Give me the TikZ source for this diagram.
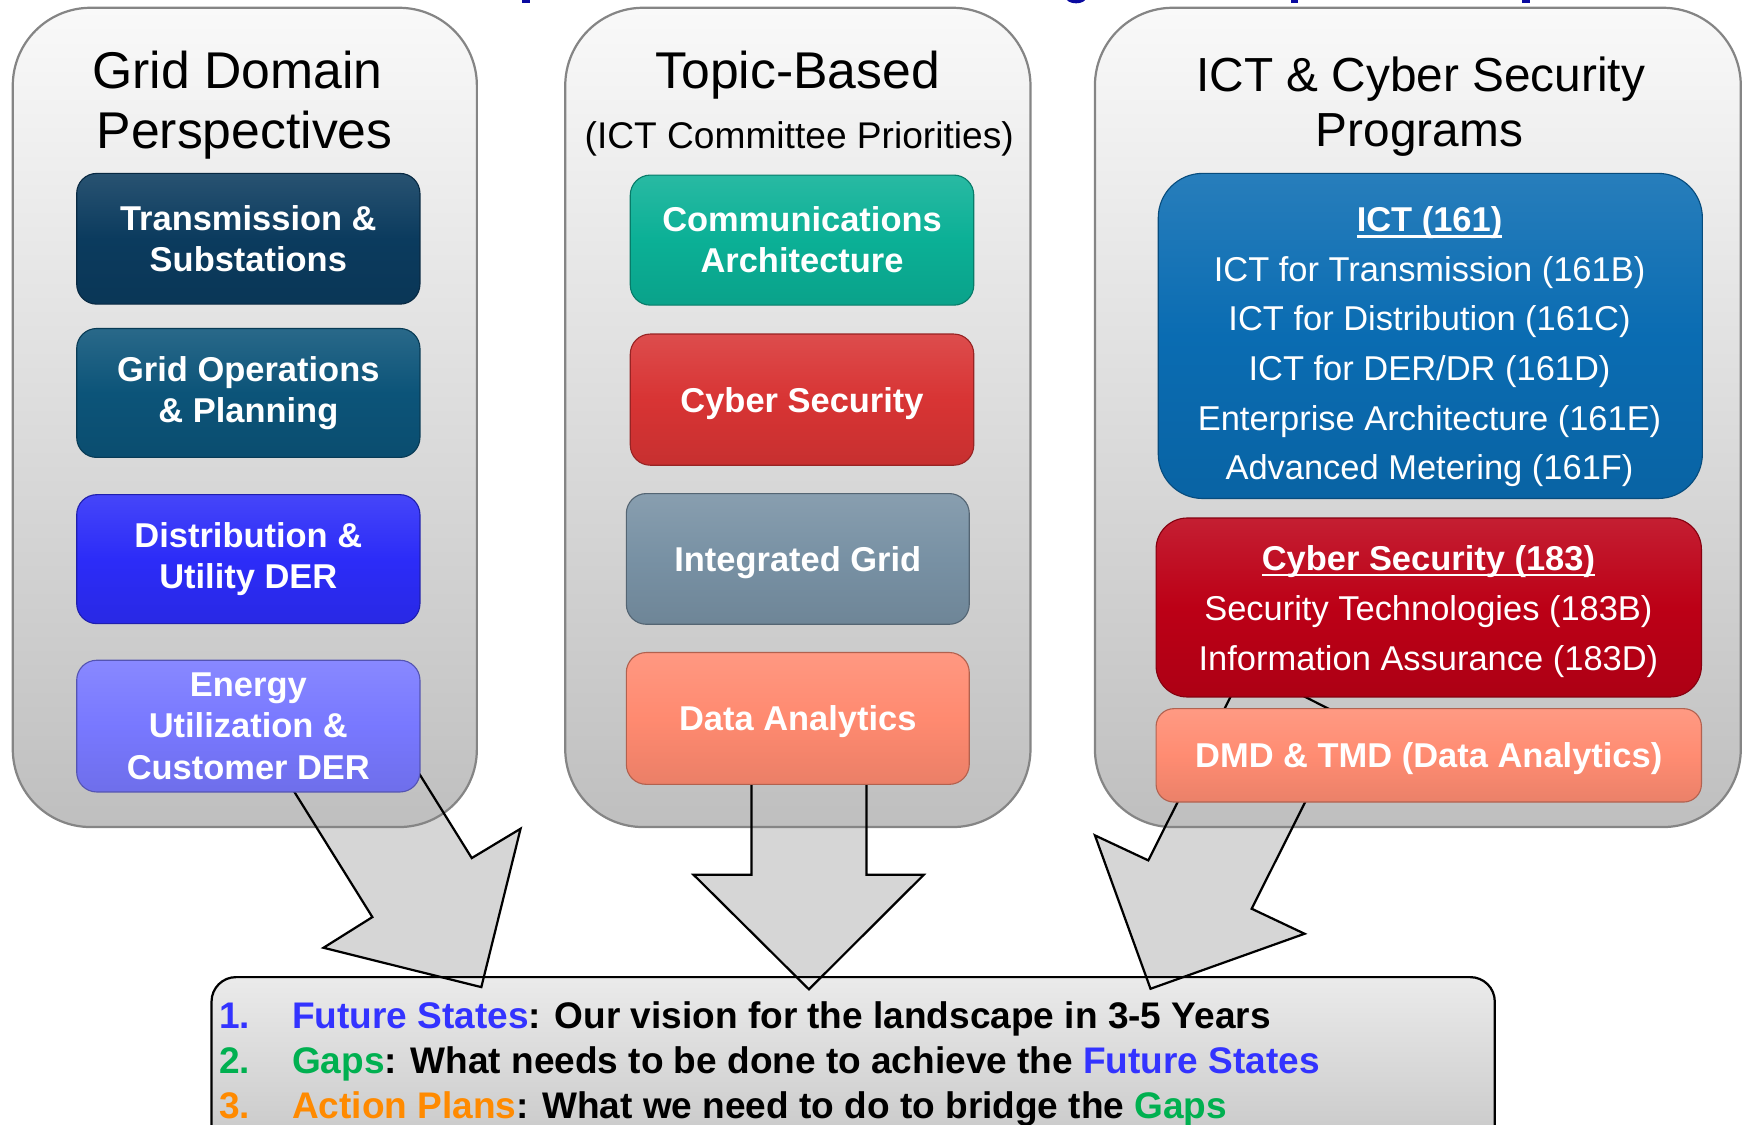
\documentclass[tikz,border=0pt]{standalone}
\usepackage{fontspec}
\setmainfont{Liberation Sans}
\definecolor{paneltop}{HTML}{F9F9F9}
\definecolor{panelbot}{HTML}{BFBFBF}
\definecolor{panelline}{HTML}{858585}
\definecolor{titleblue}{HTML}{0A0AA0}
\definecolor{arrowfill}{HTML}{D6D6D6}
\definecolor{ctrans}{HTML}{0B3B5E}
\definecolor{cgridops}{HTML}{0C5479}
\definecolor{cdist}{HTML}{2C2CF8}
\definecolor{cenergy}{HTML}{7878FF}
\definecolor{ccomm}{HTML}{0BB096}
\definecolor{ccyber}{HTML}{D83434}
\definecolor{cinteg}{HTML}{7891A4}
\definecolor{cdata}{HTML}{FF8A70}
\definecolor{cict}{HTML}{0A6CB2}
\definecolor{ccs}{HTML}{BC0016}
\definecolor{cdmd}{HTML}{FF8C72}
\definecolor{fsblue}{HTML}{3333FF}
\definecolor{gapgreen}{HTML}{00B050}
\definecolor{actorange}{HTML}{FF8A00}
\newcommand\myul[1]{\setbox0=\hbox{#1}\rlap{\rule[-5.5pt]{\wd0}{2.2pt}}\box0}
\begin{document}
\begin{tikzpicture}[x=1pt,y=-1pt,
  panel/.style={draw=panelline,line width=2pt,rounded corners=70pt,top color=paneltop,bottom color=panelbot},
  bottombox/.style={draw=black,line width=2pt,rounded corners=22pt,top color=black!8,bottom color=black!24},
  arrowline/.style={draw=black,line width=2pt,line join=miter},
  box/.style={rounded corners=18pt,draw=#1!70!black,line width=1pt,
    top color=#1!88!white,bottom color=#1!92!black,middle color=#1,
    text=white,align=center,inner sep=0pt,font=\bfseries\fontsize{31}{37}\selectfont},
  title/.style={inner sep=0pt,anchor=base,font=\fontsize{46.5}{50}\selectfont},
  boxtext/.style={inner sep=0pt,text=white,align=center,font=\fontsize{31}{44.7}\selectfont},
  btext/.style={inner sep=0pt,anchor=base west,font=\bfseries\fontsize{33.3}{40}\selectfont}]
\useasboundingbox (0,0) rectangle (1568,1012);
\clip (0,0) rectangle (1568,1012);

% fragments of the clipped heading
\fill[titleblue] (470,-1) rectangle (477,2.5);
\fill[titleblue] (968,-2) ellipse [x radius=9, y radius=5];
\fill[titleblue] (1161,-1) rectangle (1168,3);
\fill[titleblue] (1369,-1) rectangle (1376,3);

% block arrow coordinates
\coordinate (L1) at (249,687);   \coordinate (L2) at (335,825);
\coordinate (L3) at (291,852.6); \coordinate (L4) at (433,888);
\coordinate (L5) at (468.3,745.5); \coordinate (L6) at (424.4,771.9);
\coordinate (L7) at (337.3,632);
\coordinate (M1) at (676,690);   \coordinate (M2) at (676,787);
\coordinate (M3) at (624,787);   \coordinate (M4) at (727.7,890);
\coordinate (M5) at (831,787);   \coordinate (M6) at (779.5,787);
\coordinate (M7) at (779.5,690);
\coordinate (R1) at (1120.5,600); \coordinate (R2) at (1033,774);
\coordinate (R3) at (985,751.5);  \coordinate (R4) at (1035,889.5);
\coordinate (R5) at (1173.6,840); \coordinate (R6) at (1126,817.5);
\coordinate (R7) at (1212,646);

\fill[arrowfill] (L1) -- (L2) -- (L3) -- (L4) -- (L5) -- (L6) -- (L7) -- cycle;
\fill[arrowfill] (M1) -- (M2) -- (M3) -- (M4) -- (M5) -- (M6) -- (M7) -- cycle;
\fill[arrowfill] (R1) -- (R2) -- (R3) -- (R4) -- (R5) -- (R6) -- (R7) -- cycle;

% panels
\path[panel] (11.5,7) rectangle (429,744);
\path[panel] (508.5,7) rectangle (927,744);
\path[panel] (985,7) rectangle (1566,744);

% bottom box
\path[bottombox] (190.3,879) rectangle (1344.7,1060);

% arrow outlines
\draw[arrowline] (L1) -- (L2) -- (L3) -- (L4) -- (L5) -- (L6) -- (L7) -- cycle;
\draw[arrowline] (M1) -- (M2) -- (M3) -- (M4) -- (M5) -- (M6) -- (M7) -- cycle;
\draw[arrowline] (R1) -- (R2) -- (R3) -- (R4) -- (R5) -- (R6) -- (R7) -- cycle;

% titles
\node[title] (t1a) at (213.5,79.5) {Grid Domain};
\node[title] (t1b) at (220,133.5) {Perspectives};
\node[title] (t2a) at (717.5,79.5) {Topic-Based};
\node[title,font=\fontsize{33.4}{40}\selectfont] (t2b) at (719,133.7) {(ICT Committee Priorities)};
\node[title,font=\fontsize{43}{48}\selectfont] (t3a) at (1278,82.5) {ICT \& Cyber Security};
\node[title,font=\fontsize{43}{48}\selectfont] (t3b) at (1277,132) {Programs};

% left column
\node[box=ctrans,minimum width=308.8pt,minimum height=117.6pt] (trans) at (223.4,214.8) {Transmission \&\\Substations};
\node[box=cgridops,minimum width=308.8pt,minimum height=116pt] (gridops) at (223.4,353.5) {Grid Operations\\\& Planning};
\node[box=cdist,minimum width=308.8pt,minimum height=116pt] (dist) at (223.4,503) {Distribution \&\\Utility DER};
\node[box=cenergy,minimum width=308.8pt,minimum height=118.5pt,font=\bfseries\fontsize{31}{37.5}\selectfont] (energy) at (223.4,653.2) {Energy\\Utilization \&\\Customer DER};

% middle column
\node[box=ccomm,minimum width=309pt,minimum height=117pt] (comm) at (721.5,216) {Communications\\Architecture};
\node[box=ccyber,minimum width=309pt,minimum height=118pt,text depth=0pt] (cyber) at (721.5,359.5) {Cyber Security};
\node[box=cinteg,minimum width=308.5pt,minimum height=117.6pt,text depth=0pt] (integ) at (717.7,502.8) {Integrated Grid};
\node[box=cdata,minimum width=308.5pt,minimum height=118.6pt,text depth=0pt] (data) at (717.7,646.3) {Data Analytics};

% right column
\node[box=cict,minimum width=489.5pt,minimum height=292.5pt,rounded corners=40pt] (ict) at (1286.7,302.2) {};
\node[boxtext] (icttext) at (1286,312) {\textbf{\myul{ICT (161)}}\\ICT for Transmission (161B)\\ICT for Distribution (161C)\\ICT for DER/DR (161D)\\Enterprise Architecture (161E)\\Advanced Metering (161F)};
\node[box=ccs,minimum width=490.6pt,minimum height=161pt,rounded corners=28pt] (cs) at (1285.3,546.5) {};
\node[boxtext,font=\fontsize{31}{45}\selectfont] (cstext) at (1285,550) {\textbf{\myul{Cyber Security (183)}}\\Security Technologies (183B)\\Information Assurance (183D)};
\node[box=cdmd,minimum width=490.6pt,minimum height=84pt,rounded corners=16pt,text depth=1pt] (dmd) at (1285.3,679.5) {DMD \& TMD (Data Analytics)};

% bottom text
\node[btext] (b1) at (197,925) {\makebox[65.6pt][l]{\color{fsblue}1.}\textcolor{fsblue}{Future States}: Our vision for the landscape in 3-5 Years};
\node[btext] (b2) at (197,966) {\makebox[65.6pt][l]{\color{gapgreen}2.}\textcolor{gapgreen}{Gaps}: What needs to be done to achieve the \textcolor{fsblue}{Future States}};
\node[btext] (b3) at (197,1006.5) {\makebox[65.6pt][l]{\color{actorange}3.}\textcolor{actorange}{Action Plans}: What we need to do to bridge the \textcolor{gapgreen}{Gaps}};
\end{tikzpicture}
\end{document}
